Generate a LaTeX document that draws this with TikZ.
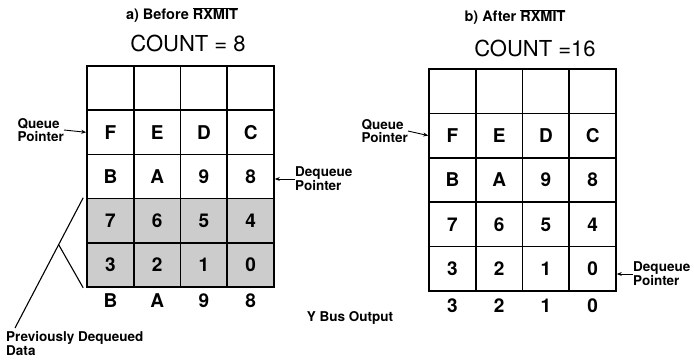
\documentclass[tikz,border=0pt]{standalone}
\usepackage{fontspec}
\setmainfont{TeX Gyre Heros}
\usetikzlibrary{arrows.meta,positioning,calc}

\tikzset{
  cell/.style={draw, line width=1.6pt, minimum width=46.75pt, minimum height=44.3pt,
    inner sep=0pt, font=\fontsize{19}{19}\selectfont\bfseries},
  old/.style={fill=gray!40},
  digit/.style={inner sep=0pt, font=\fontsize{19}{19}\selectfont\bfseries},
  title/.style={font=\fontsize{14.5}{15}\selectfont\bfseries},
  count/.style={font=\fontsize{22}{22}\selectfont},
  lbl/.style={align=left, inner sep=0pt, font=\fontsize{13.5}{12.5}\selectfont\bfseries},
  ptr/.style={-{Stealth[length=5pt,width=4pt]}, line width=0.9pt},
}

\begin{document}
\begin{tikzpicture}[x=1pt, y=-1pt]
  \useasboundingbox (0,0) rectangle (694,361);
  % ---- a) before RXMIT ----
  \node[title] (ta) at (182,15) {a)\ Before $\overline{\hbox{RXMIT}}$};
  \node[count] (ca) at (188,43) {COUNT = 8};
  \foreach \txt [count=\i from 0] in {{},{},{},{},F,E,D,C,B,A,9,8,7,6,5,4,3,2,1,0} {
    \pgfmathtruncatemacro{\row}{div(\i,4)}
    \pgfmathtruncatemacro{\col}{mod(\i,4)}
    \ifnum\row>2 \def\sh{old}\else\def\sh{}\fi
    \node[cell,\sh] (a-\row-\col) at ({87+46.75*(\col+0.5)},{66+44.2*(\row+0.5)}) {\txt};
  }
  \foreach \txt [count=\col from 0] in {B,A,9,8}
    \node[digit, below=6pt of a-4-\col] (ya-\col) {\txt};
  \node[lbl, anchor=east] (qa) at (64,130) {Queue\\Pointer};
  \draw[ptr] (qa.east) -- (a-1-0.west);
  \node[lbl, anchor=west] (da) at (295,179) {Dequeue\\Pointer};
  \draw[ptr] (da.west) -- (a-2-3.east |- da.west);
  % previously dequeued bracket
  \node[lbl, anchor=north west] (prev) at (6,331) {Previously Dequeued\\Data};
  \coordinate (pt) at ([xshift=-3pt]a-3-0.north west);
  \coordinate (pe) at ([xshift=9pt,yshift=3pt]prev.north west);
  \coordinate (pj) at ($(pt)!0.36!(pe)$);
  \draw[line width=1.1pt] (pt) -- (pe);
  \draw[line width=1.1pt] (pj) -- ([xshift=-3pt]a-4-0.south west);
  \node[lbl] (ybus) at (350,318) {Y Bus Output};
  % ---- b) after RXMIT ----
  \node[title] (tb) at (515,17) {b)\ After $\overline{\hbox{RXMIT}}$};
  \node[count] (cb) at (535,48) {COUNT =16};
  \foreach \txt [count=\i from 0] in {{},{},{},{},F,E,D,C,B,A,9,8,7,6,5,4,3,2,1,0} {
    \pgfmathtruncatemacro{\row}{div(\i,4)}
    \pgfmathtruncatemacro{\col}{mod(\i,4)}
    \node[cell] (b-\row-\col) at ({429+46.75*(\col+0.5)},{69+44.4*(\row+0.5)}) {\txt};
  }
  \foreach \txt [count=\col from 0] in {3,2,1,0}
    \node[digit, below=7pt of b-4-\col] (yb-\col) {\txt};
  \node[lbl, anchor=east] (qb) at (408,131) {Queue\\Pointer};
  \draw[ptr] (qb.east) -- (b-1-0.west);
  \node[lbl, anchor=west] (db) at (633,274) {Dequeue\\Pointer};
  \draw[ptr] (db.west) -- (b-4-3.east |- db.west);
\end{tikzpicture}
\end{document}
